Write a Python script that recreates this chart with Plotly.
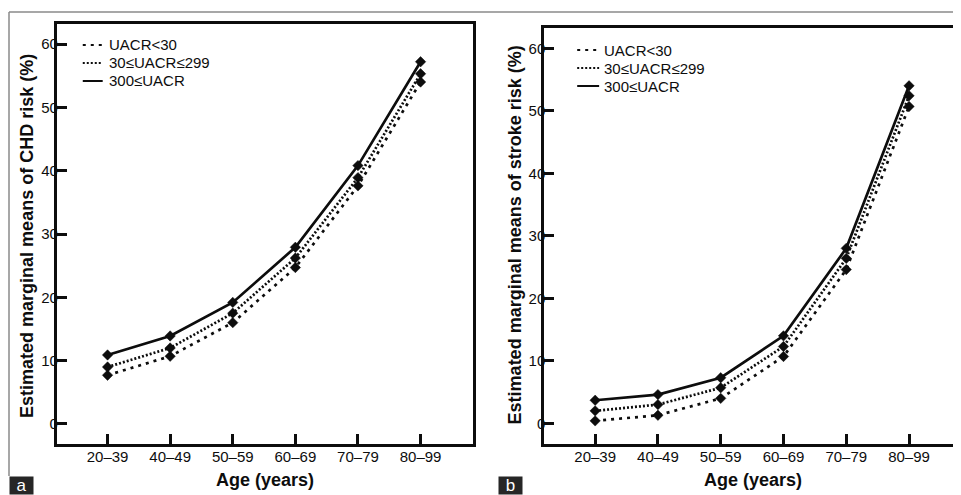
import plotly.graph_objects as go

age_groups = ["20–39", "40–49", "50–59", "60–69", "70–79", "80–99"]
series_names = ["UACR<30", "30≤UACR≤299", "300≤UACR"]
chd_low = [7.7, 10.7, 16.0, 24.7, 37.6, 54.0]
chd_mid = [9.0, 12.0, 17.5, 26.2, 38.9, 55.3]
chd_high = [10.9, 13.9, 19.2, 27.9, 40.8, 57.2]
stroke_low = [0.4, 1.3, 4.0, 10.7, 24.6, 50.7]
stroke_mid = [2.0, 3.0, 5.7, 12.3, 26.4, 52.4]
stroke_high = [3.7, 4.6, 7.3, 14.0, 28.0, 54.0]
y_ticks = [0, 10, 20, 30, 40, 50, 60]

# the page adds an 8px body margin; the figure is sized to fill the rest
OFF = 8
W, H = 961, 495
FW, FH = W - OFF, H - OFF
FONT = "Liberation Sans, Arial, sans-serif"
INK = "#0d0d0d"
dashes = ["3px,5px", "2px,2px", "solid"]


def px(x):
    return min(max((x - OFF) / FW, 0.0), 1.0)


def py(y):
    return min(max(1 - (y - OFF) / FH, 0.0), 1.0)


fig = go.Figure()

panels = [
    ("x", "y", [chd_low, chd_mid, chd_high]),
    ("x2", "y2", [stroke_low, stroke_mid, stroke_high]),
]
for xa, ya, data in panels:
    for name, vals, dash in zip(series_names, data, dashes):
        fig.add_trace(go.Scatter(
            x=age_groups, y=vals, mode="lines+markers", xaxis=xa, yaxis=ya,
            name=name, line=dict(color=INK, width=2.7, dash=dash),
            marker=dict(symbol="diamond", size=8, color=INK,
                        line=dict(color=INK, width=0.5)),
            showlegend=False, hoverinfo="x+y+name",
        ))

axis_common = dict(
    showline=True, mirror=True, linecolor=INK, linewidth=3,
    ticks="inside", ticklen=10, tickwidth=2.5, tickcolor=INK,
    showgrid=False, zeroline=False,
    tickfont=dict(family=FONT, size=15, color=INK),
    fixedrange=True,
)

fig.update_layout(
    width=FW, height=FH,
    margin=dict(l=0, r=0, t=0, b=0),
    paper_bgcolor="white", plot_bgcolor="white",
    font=dict(family=FONT, color=INK),
    showlegend=False,
    xaxis=dict(domain=[px(57), px(474)], anchor="y", type="category",
               range=[-0.81, 5.83], ticklabelstandoff=-3, **axis_common),
    yaxis=dict(domain=[py(444), py(24)], anchor="x", range=[-3.16, 63.16],
               tickvals=y_ticks, ticklabelstandoff=-7, **axis_common),
    xaxis2=dict(domain=[px(546), px(961)], anchor="y2", type="category",
                range=[-0.81, 5.78], ticklabelstandoff=-3, **axis_common),
    yaxis2=dict(domain=[py(444), py(28)], anchor="x2", range=[-3.3, 63.25],
                tickvals=y_ticks, ticklabelstandoff=-7, **axis_common),
)

title_font = dict(family=FONT, size=18, color=INK, weight="bold")
annots = [
    dict(text="Age (years)", x=px(265.5), y=py(480), font=title_font),
    dict(text="Age (years)", x=px(755), y=py(480), font=title_font),
    dict(text="Estimated marginal means of CHD risk (%)", x=px(27), y=py(236),
         textangle=-90, font=title_font),
    dict(text="Estimated marginal means of stroke risk (%)", x=px(517), y=py(235),
         textangle=-90, font=title_font),
]
for a in annots:
    fig.add_annotation(xref="paper", yref="paper", showarrow=False,
                       xanchor="center", yanchor="middle", **a)

# in-plot legends (line sample + label), one per panel
legend_specs = [
    dict(x0=83, x1=103, tx=107, rows=[45, 63, 81]),
    dict(x0=579, x1=601, tx=604, rows=[50, 68, 86]),
]
for spec in legend_specs:
    for name, dash, ry in zip(series_names, dashes, spec["rows"]):
        fig.add_shape(type="line", xref="paper", yref="paper",
                      x0=px(spec["x0"]), x1=px(spec["x1"]), y0=py(ry), y1=py(ry),
                      line=dict(color=INK, width=2, dash=dash))
        fig.add_annotation(text=name, xref="paper", yref="paper",
                           x=px(spec["tx"]), y=py(ry), xanchor="left",
                           yanchor="middle", showarrow=False,
                           font=dict(family=FONT, size=15, color=INK))

# panel letters in dark boxes
for lbl, x0 in [("a", 9), ("b", 500)]:
    fig.add_annotation(text=lbl, xref="paper", yref="paper", x=px(x0), y=py(476),
                       xanchor="left", yanchor="top", showarrow=False,
                       width=23, height=17, bgcolor="#262626", borderpad=0,
                       font=dict(family=FONT, size=17, color="white"),
                       valign="middle")

# thin grey outer frame of the figure
fig.add_shape(type="line", xref="paper", yref="paper", x0=px(9), x1=1.0,
              y0=py(12), y1=py(12), line=dict(color="#8a8a8a", width=1.5))
fig.add_shape(type="line", xref="paper", yref="paper", x0=px(9), x1=px(9),
              y0=py(12), y1=py(476), line=dict(color="#8a8a8a", width=1.5))

fig.write_html("out.html")
